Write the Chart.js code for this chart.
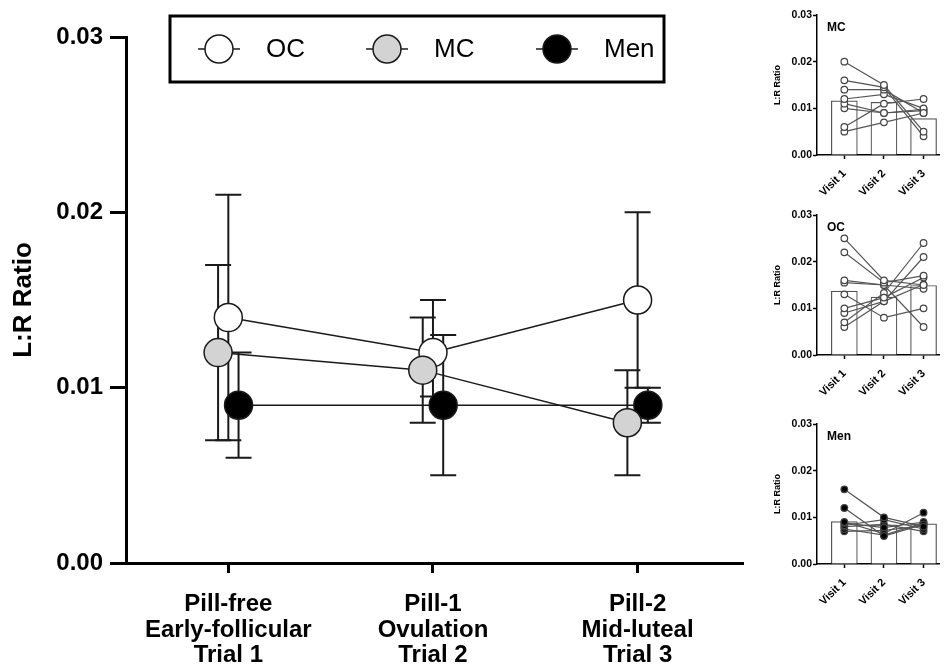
<!DOCTYPE html>
<html>
<head>
<meta charset="utf-8">
<script src="https://cdn.jsdelivr.net/npm/chart.js@4.4.1/dist/chart.umd.min.js"></script>
<style>
  body { margin: 0; background: #fff; width: 945px; height: 667px; position: relative; overflow: hidden; }
  .box { position: absolute; }
</style>
</head>
<body>
<div class="box" style="left:0;top:0;width:765px;height:667px"><canvas id="main"></canvas></div>
<div class="box" style="left:765px;top:0;width:180px;height:205px"><canvas id="pMC"></canvas></div>
<div class="box" style="left:765px;top:200px;width:180px;height:205px"><canvas id="pOC"></canvas></div>
<div class="box" style="left:765px;top:409px;width:180px;height:205px"><canvas id="pMen"></canvas></div>
<script>
// main chart data
const trialLabels = [
  ['Pill-free', 'Early-follicular', 'Trial 1'],
  ['Pill-1', 'Ovulation', 'Trial 2'],
  ['Pill-2', 'Mid-luteal', 'Trial 3']
];
const yTicks = [0, 0.01, 0.02, 0.03];

const ocMean = [0.014, 0.012, 0.015];
const ocLow = [0.007, 0.0095, 0.010];
const ocHigh = [0.021, 0.015, 0.020];

const mcMean = [0.012, 0.011, 0.008];
const mcLow = [0.007, 0.008, 0.005];
const mcHigh = [0.017, 0.014, 0.011];

const menMean = [0.009, 0.009, 0.009];
const menLow = [0.006, 0.005, 0.008];
const menHigh = [0.012, 0.013, 0.010];

// small panels data
const visitLabels = ['Visit 1', 'Visit 2', 'Visit 3'];
const panelTicks = [0, 0.01, 0.02, 0.03];

const mcBars = [0.0116, 0.0113, 0.0078];
const mcSubjects = [
  [0.020, 0.015, 0.005],
  [0.016, 0.0145, 0.004],
  [0.014, 0.014, 0.009],
  [0.012, 0.013, 0.010],
  [0.011, 0.009, 0.0098],
  [0.010, 0.009, 0.0095],
  [0.006, 0.011, 0.012],
  [0.005, 0.007, 0.009]
];

const ocBars = [0.0137, 0.0124, 0.0149];
const ocSubjects = [
  [0.025, 0.016, 0.015],
  [0.022, 0.0155, 0.017],
  [0.016, 0.015, 0.006],
  [0.0155, 0.015, 0.0142],
  [0.013, 0.008, 0.010],
  [0.010, 0.0123, 0.0166],
  [0.009, 0.0115, 0.0151],
  [0.007, 0.0133, 0.024],
  [0.006, 0.0115, 0.021]
];

const menBars = [0.0091, 0.0084, 0.0086];
const menSubjects = [
  [0.016, 0.010, 0.008],
  [0.012, 0.006, 0.0085],
  [0.009, 0.0065, 0.011],
  [0.0088, 0.0078, 0.009],
  [0.0083, 0.0095, 0.0075],
  [0.008, 0.0085, 0.007],
  [0.0075, 0.0062, 0.0088],
  [0.007, 0.0072, 0.0082]
];

const FONT = '"Liberation Sans", Arial, sans-serif';
Chart.defaults.font.family = FONT;
Chart.defaults.color = '#000';

// little side-by-side shift so the groups don't sit on top of each other
const dodge = { OC: 0, MC: -0.05, Men: 0.05 };

const groupDataset = (label, mean, low, high, fill, order) => ({
  label,
  data: mean.map((v, i) => ({ x: i + 1 + dodge[label], y: v })),
  low, high,
  borderColor: '#1a1a1a',
  borderWidth: 1.5,
  pointRadius: 14,
  pointBorderWidth: 1.5,
  pointBorderColor: '#1a1a1a',
  pointBackgroundColor: fill,
  order
});

// error bars, drawn under the markers
const errorBars = {
  id: 'errorBars',
  beforeDatasetsDraw(chart) {
    const ctx = chart.ctx;
    const y = chart.scales.y;
    ctx.save();
    ctx.strokeStyle = '#1a1a1a';
    ctx.lineWidth = 2;
    chart.data.datasets.forEach((ds, i) => {
      chart.getDatasetMeta(i).data.forEach((pt, j) => {
        const lo = y.getPixelForValue(ds.low[j]);
        const hi = y.getPixelForValue(ds.high[j]);
        ctx.beginPath();
        ctx.moveTo(pt.x, lo); ctx.lineTo(pt.x, hi);
        ctx.moveTo(pt.x - 13, lo); ctx.lineTo(pt.x + 13, lo);
        ctx.moveTo(pt.x - 13, hi); ctx.lineTo(pt.x + 13, hi);
        ctx.stroke();
      });
    });
    ctx.restore();
  }
};

// boxed legend at the top
const boxLegend = {
  id: 'boxLegend',
  afterDraw(chart) {
    const ctx = chart.ctx;
    ctx.save();
    ctx.lineWidth = 3;
    ctx.strokeStyle = '#000';
    ctx.strokeRect(170, 16, 494, 66);
    const xs = [219, 387, 557];
    const cy = 49;
    chart.data.datasets.forEach((ds, i) => {
      const cx = xs[i];
      ctx.lineWidth = 1.5;
      ctx.strokeStyle = '#1a1a1a';
      ctx.beginPath();
      ctx.moveTo(cx - 21, cy); ctx.lineTo(cx + 21, cy);
      ctx.stroke();
      ctx.beginPath();
      ctx.arc(cx, cy, 14, 0, Math.PI * 2);
      ctx.fillStyle = ds.pointBackgroundColor;
      ctx.fill();
      ctx.stroke();
      ctx.fillStyle = '#000';
      ctx.font = '26px ' + FONT;
      ctx.textBaseline = 'middle';
      ctx.fillText(ds.label, cx + 47, cy + 1);
    });
    ctx.restore();
  }
};

new Chart(document.getElementById('main'), {
  type: 'line',
  data: {
    datasets: [
      groupDataset('OC', ocMean, ocLow, ocHigh, '#ffffff', 2),
      groupDataset('MC', mcMean, mcLow, mcHigh, '#d3d3d3', 1),
      groupDataset('Men', menMean, menLow, menHigh, '#000000', 3)
    ]
  },
  options: {
    responsive: true,
    maintainAspectRatio: false,
    animation: false,
    layout: { padding: { top: 37, right: 22, left: 0, bottom: 0 } },
    plugins: { legend: { display: false }, tooltip: { enabled: false } },
    scales: {
      x: {
        type: 'linear',
        min: 0.5,
        max: 3.515,
        afterBuildTicks: s => { s.ticks = [1, 2, 3].map(v => ({ value: v })); },
        ticks: {
          callback: v => trialLabels[Math.round(v) - 1],
          font: { size: 24, weight: 'bold', lineHeight: 1.08 },
          color: '#000',
          padding: 18,
          maxRotation: 0,
          autoSkip: false
        },
        grid: { drawOnChartArea: false, tickLength: 10, tickWidth: 3, tickColor: '#000' },
        border: { width: 3, color: '#000' },
        afterFit: s => { s.height = 104; }
      },
      y: {
        min: 0,
        max: 0.03,
        afterBuildTicks: s => { s.ticks = yTicks.map(v => ({ value: v })); },
        ticks: {
          callback: v => v.toFixed(2),
          font: { size: 24, weight: 'bold' },
          color: '#000',
          padding: 7
        },
        grid: { drawOnChartArea: false, tickLength: 16, tickWidth: 3, tickColor: '#000' },
        border: { width: 3, color: '#000' },
        title: {
          display: true,
          text: 'L:R Ratio',
          font: { size: 26, weight: 'bold' },
          color: '#000',
          padding: { top: 8, bottom: 0 }
        },
        afterFit: s => { s.width = 126; }
      }
    }
  },
  plugins: [errorBars, boxLegend]
});

// group name in the top-left corner of each small panel
const panelTitle = {
  id: 'panelTitle',
  afterDraw(chart, args, opts) {
    const ctx = chart.ctx;
    const a = chart.chartArea;
    ctx.save();
    ctx.font = 'bold 12px ' + FONT;
    ctx.fillStyle = '#000';
    ctx.textBaseline = 'middle';
    ctx.fillText(opts.text, a.left + 10, a.top + 13);
    ctx.restore();
  }
};

function drawPanel(id, title, bars, subjects, dotFill) {
  new Chart(document.getElementById(id), {
    type: 'bar',
    data: {
      datasets: [
        {
          type: 'bar',
          data: bars.map((v, i) => ({ x: i + 1, y: v })),
          backgroundColor: '#fff',
          borderColor: '#555',
          borderWidth: 1.2,
          barThickness: 26,
          order: 10
        },
        ...subjects.map(s => ({
          type: 'line',
          data: s.map((v, i) => ({ x: i + 1, y: v })),
          borderColor: '#555',
          borderWidth: 1.2,
          pointRadius: 3.3,
          pointBorderWidth: 1.2,
          pointBorderColor: '#444',
          pointBackgroundColor: dotFill,
          order: 1
        }))
      ]
    },
    options: {
      responsive: true,
      maintainAspectRatio: false,
      animation: false,
      layout: { padding: { top: 15, right: 2, left: 0, bottom: 0 } },
      plugins: { legend: { display: false }, tooltip: { enabled: false }, panelTitle: { text: title } },
      scales: {
        x: {
          type: 'linear',
          offset: false,
          min: 0.31,
          max: 3.41,
          afterBuildTicks: s => { s.ticks = [1, 2, 3].map(v => ({ value: v })); },
          ticks: {
            callback: v => visitLabels[Math.round(v) - 1],
            minRotation: 45,
            maxRotation: 45,
            font: { size: 11, weight: 'bold' },
            color: '#000',
            padding: 8,
            autoSkip: false
          },
          grid: { drawOnChartArea: false, offset: false, tickLength: 4, tickWidth: 1.5, tickColor: '#000' },
          border: { width: 1.5, color: '#000' },
          afterFit: s => { s.height = 50; }
        },
        y: {
          min: 0,
          max: 0.03,
          afterBuildTicks: s => { s.ticks = panelTicks.map(v => ({ value: v })); },
          ticks: {
            callback: v => v.toFixed(2),
            font: { size: 10.5, weight: 'bold' },
            color: '#000',
            padding: 1
          },
          grid: { drawOnChartArea: false, tickLength: 4, tickWidth: 1.5, tickColor: '#000' },
          border: { width: 1.5, color: '#000' },
          title: {
            display: true,
            text: 'L:R Ratio',
            font: { size: 9, weight: 'bold' },
            color: '#000',
            padding: { top: 7, bottom: 0 }
          },
          afterFit: s => { s.width = 52; }
        }
      }
    },
    plugins: [panelTitle]
  });
}

drawPanel('pMC', 'MC', mcBars, mcSubjects, '#fff');
drawPanel('pOC', 'OC', ocBars, ocSubjects, '#fff');
drawPanel('pMen', 'Men', menBars, menSubjects, '#000');
</script>
</body>
</html>
